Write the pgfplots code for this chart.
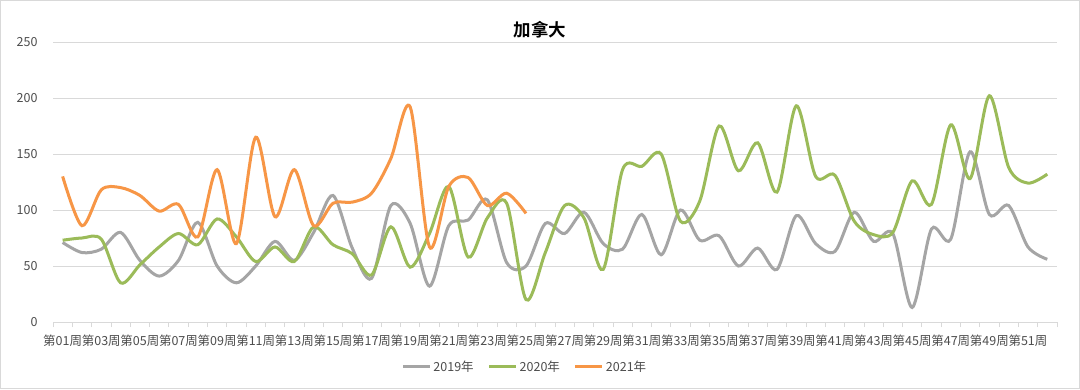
\documentclass[border=0pt]{standalone}
\usepackage{fontspec}
\setmainfont{Noto Sans CJK SC}[BoldFont={Noto Sans CJK SC Bold}]
\usepackage{pgfplots}
\pgfplotsset{compat=1.18}
\definecolor{gridc}{HTML}{D9D9D9}
\definecolor{txt}{HTML}{4D4D4D}
\definecolor{c19}{HTML}{A5A5A5}
\definecolor{c20}{HTML}{9BBB59}
\definecolor{c21}{HTML}{F79646}
\begin{document}
\begin{tikzpicture}[x=1bp,y=1bp]
\useasboundingbox (0,0) rectangle (1080,389);
\fill[white] (0,0) rectangle (1080,389);
\draw[gridc, line width=1bp] (0.5,0.5) rectangle (1079.5,388.5);
\begin{axis}[
  at={(53bp,67bp)}, anchor=south west,
  width=1004bp, height=280bp, scale only axis,
  xmin=0.5, xmax=52.5, ymin=0, ymax=250,
  ytick={0,50,100,150,200,250},
  xtick={1,3,...,51},
  xticklabels={第01周,第03周,第05周,第07周,第09周,第11周,第13周,第15周,第17周,第19周,第21周,第23周,第25周,第27周,第29周,第31周,第33周,第35周,第37周,第39周,第41周,第43周,第45周,第47周,第49周,第51周},
  axis x line*=bottom, axis y line*=left,
  x axis line style={gridc, line width=0.75bp},
  y axis line style={draw=none},
  ymajorgrids, grid style={gridc, line width=0.75bp},
  major tick length=0pt,
  tick style={draw=none},
  extra x ticks={0.5,1.5,...,52.5},
  extra x tick labels={},
  extra x tick style={grid=none, major tick length=5bp, tick align=outside, tick style={draw=gridc, line width=0.75bp}},
  ticklabel style={font=\fontsize{12.5bp}{14bp}\selectfont, text=txt},
  /pgf/number format/assume math mode=true,
  yticklabel style={anchor=east, xshift=-12bp},
  xticklabel style={yshift=-9.5bp},
  legend style={at={(0.47,-0.16)}, anchor=center, draw=none, fill=none,
    legend columns=3, font=\fontsize{12.5bp}{14bp}\selectfont, text=txt,
    /tikz/every even column/.append style={column sep=12bp}},
  legend image code/.code={\draw[#1, line width=3bp] (0bp,0bp) -- (27bp,0bp);},
  every axis plot/.append style={line width=3bp, smooth, tension=0.5, mark=none},
]
\addplot[c19] coordinates {
(1,71)(2,62)(3,65)(4,80)(5,55)(6,41)(7,55)(8,89)(9,50)(10,35)
(11,50)(12,72)(13,55)(14,80)(15,113)(16,66)(17,39)(18,104)(19,88)(20,32)
(21,86)(22,91)(23,109)(24,53)(25,50)(26,88)(27,79)(28,98)(29,70)(30,65)
(31,96)(32,60)(33,100)(34,73)(35,77)(36,50)(37,66)(38,47)(39,95)(40,70)
(41,63)(42,98)(43,72)(44,79)(45,13)(46,83)(47,74)(48,152)(49,96)(50,104)
(51,67)(52,56)};
\addlegendentry{2019年}
\addplot[c20] coordinates {
(1,73)(2,75)(3,74)(4,35)(5,51)(6,67)(7,79)(8,69)(9,92)(10,76)
(11,54)(12,67)(13,54)(14,85)(15,69)(16,61)(17,42)(18,85)(19,49)(20,79)
(21,121)(22,58)(23,93)(24,106)(25,20)(26,62)(27,104)(28,93)(29,47)(30,136)
(31,139)(32,150)(33,90)(34,108)(35,175)(36,135)(37,160)(38,116)(39,193)(40,130)
(41,131)(42,90)(43,78)(44,80)(45,126)(46,105)(47,176)(48,128)(49,202)(50,138)
(51,124)(52,132)};
\addlegendentry{2020年}
\addplot[c21] coordinates {
(1,130)(2,86)(3,118)(4,120)(5,113)(6,99)(7,105)(8,76)(9,136)(10,70)
(11,165)(12,94)(13,136)(14,86)(15,106)(16,107)(17,115)(18,146)(19,192)(20,67)
(21,121)(22,129)(23,104)(24,115)(25,97)};
\addlegendentry{2021年}
\end{axis}
\node[font=\fontsize{17.5bp}{20bp}\selectfont\bfseries, text=black] at (540,359) {加拿大};
\end{tikzpicture}
\end{document}
